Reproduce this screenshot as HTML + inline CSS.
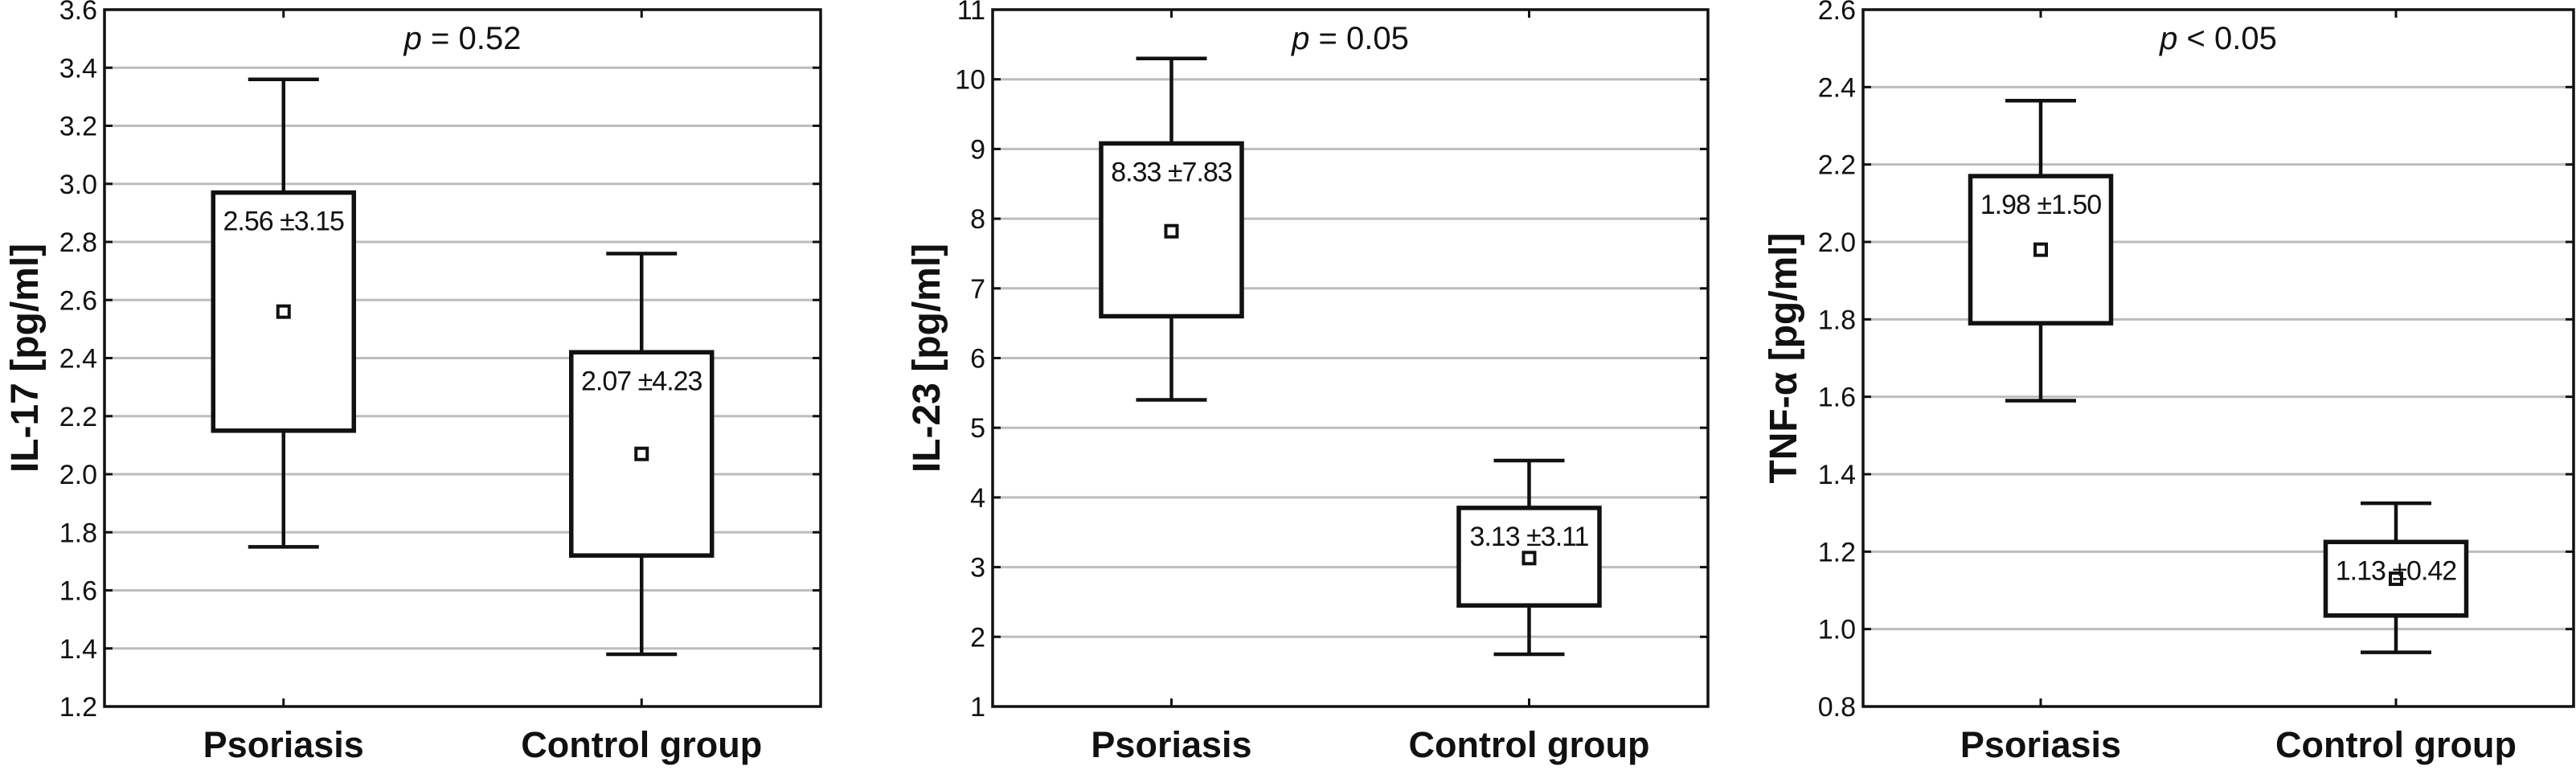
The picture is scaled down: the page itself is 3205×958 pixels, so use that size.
<!DOCTYPE html>
<html><head><meta charset="utf-8"><style>
html,body{margin:0;padding:0;background:#fff;}
svg{display:block;}
text{font-family:"Liberation Sans","DejaVu Sans",sans-serif;fill:#111;}
</style></head><body>
<svg id="c" width="3205" height="958" viewBox="0 0 3205 958" xmlns="http://www.w3.org/2000/svg"></svg>
<script>
const categories = ["Psoriasis", "Control group"];
const panelTitles = ["IL-17 [pg/ml]", "IL-23 [pg/ml]", "TNF-\u03b1 [pg/ml]"];
const pLabels = ["= 0.52", "= 0.05", "< 0.05"];
const il17Ticks = ["1.2","1.4","1.6","1.8","2.0","2.2","2.4","2.6","2.8","3.0","3.2","3.4","3.6"];
const il23Ticks = ["1","2","3","4","5","6","7","8","9","10","11"];
const tnfTicks = ["0.8","1.0","1.2","1.4","1.6","1.8","2.0","2.2","2.4","2.6"];
const il17WhiskerHigh = [3.36, 2.76];
const il17BoxHigh = [2.97, 2.42];
const il17Mean = [2.56, 2.07];
const il17BoxLow = [2.15, 1.72];
const il17WhiskerLow = [1.75, 1.38];
const il17Labels = ["2.56 \u00b13.15", "2.07 \u00b14.23"];
const il23WhiskerHigh = [10.3, 4.53];
const il23BoxHigh = [9.08, 3.85];
const il23Mean = [7.82, 3.13];
const il23BoxLow = [6.6, 2.45];
const il23WhiskerLow = [5.4, 1.75];
const il23Labels = ["8.33 \u00b17.83", "3.13 \u00b13.11"];
const tnfWhiskerHigh = [2.365, 1.325];
const tnfBoxHigh = [2.17, 1.225];
const tnfMean = [1.98, 1.13];
const tnfBoxLow = [1.79, 1.035];
const tnfWhiskerLow = [1.59, 0.94];
const tnfLabels = ["1.98 \u00b11.50", "1.13 \u00b10.42"];

const NS = "http://www.w3.org/2000/svg";
const svg = document.getElementById('c');
function mk(tag, attrs, parent) {
  const e = document.createElementNS(NS, tag);
  for (const k in attrs) e.setAttribute(k, attrs[k]);
  parent.appendChild(e);
  return e;
}
const panels = [
  {L:130, R:1021, titleX:30, ticks:il17Ticks, wh:il17WhiskerHigh, bh:il17BoxHigh, m:il17Mean, bl:il17BoxLow, wl:il17WhiskerLow, lab:il17Labels},
  {L:1235, R:2125, titleX:1152, ticks:il23Ticks, wh:il23WhiskerHigh, bh:il23BoxHigh, m:il23Mean, bl:il23BoxLow, wl:il23WhiskerLow, lab:il23Labels},
  {L:2318, R:3202, titleX:2218, ticks:tnfTicks, wh:tnfWhiskerHigh, bh:tnfBoxHigh, m:tnfMean, bl:tnfBoxLow, wl:tnfWhiskerLow, lab:tnfLabels}
];
const T = 12, B = 879;
panels.forEach((p, pi) => {
  const g = mk('g', {}, svg);
  
  
  const vmin = parseFloat(p.ticks[0]), vmax = parseFloat(p.ticks[p.ticks.length - 1]);
  const y = v => B - (v - vmin) / (vmax - vmin) * (B - T);
  const W = p.R - p.L;
  const x = i => p.L + W * (0.25 + 0.5 * i);
  p.ticks.forEach((t, ti) => {
    const yy = y(parseFloat(t));
    if (ti > 0 && ti < p.ticks.length - 1) {
      const gl = mk('line', {x1:p.L, x2:p.R, y1:yy, y2:yy, stroke:'#bdbdbd', 'stroke-width':3}, g);
      
      
    }
    mk('line', {x1:p.L, x2:p.L + 10, y1:yy, y2:yy, stroke:'#111', 'stroke-width':3}, g);
    mk('line', {x1:p.R - 10, x2:p.R, y1:yy, y2:yy, stroke:'#111', 'stroke-width':3}, g);
    const tl = mk('text', {x:p.L - 9, y:yy + 12, 'text-anchor':'end', 'font-size':34}, g);
    tl.textContent = t;
    
    
  });
  const fr = mk('rect', {x:p.L, y:T, width:W, height:B - T, fill:'none', stroke:'#111', 'stroke-width':3.5}, g);
  
  
  const yt = mk('text', {x:0, y:0, 'text-anchor':'middle', 'font-size':48, 'font-weight':'bold', transform:`translate(${p.titleX + 17},${(T + B) / 2}) rotate(-90)`}, g);
  yt.textContent = panelTitles[pi];
  
  
  const pt = mk('text', {x:p.L + W * 0.5, y:61, 'text-anchor':'middle', 'font-size':40}, g);
  pt.innerHTML = '<tspan font-style="italic">p</tspan> ' + pLabels[pi];
  
  
  categories.forEach((c, i) => {
    const cx = x(i);
    mk('line', {x1:cx, x2:cx, y1:T, y2:T + 10, stroke:'#111', 'stroke-width':3}, g);
    mk('line', {x1:cx, x2:cx, y1:B - 10, y2:B, stroke:'#111', 'stroke-width':3}, g);
    const xl = mk('text', {x:cx, y:942, 'text-anchor':'middle', 'font-size':45, 'font-weight':'bold'}, g);
    xl.textContent = c;
    
    
    const bw = 175, cw = 88;
    const wk = mk('path', {d:`M${cx},${y(p.wh[i])}V${y(p.bh[i])}M${cx},${y(p.bl[i])}V${y(p.wl[i])}M${cx - cw/2},${y(p.wh[i])}H${cx + cw/2}M${cx - cw/2},${y(p.wl[i])}H${cx + cw/2}`, stroke:'#111', 'stroke-width':4.5, fill:'none'}, g);
    
    
    const bx = mk('rect', {x:cx - bw/2, y:y(p.bh[i]), width:bw, height:y(p.bl[i]) - y(p.bh[i]), fill:'#fff', stroke:'#111', 'stroke-width':5.5}, g);
    
    
    const mm = mk('rect', {x:cx - 7, y:y(p.m[i]) - 7, width:14, height:14, fill:'#fff', stroke:'#111', 'stroke-width':4}, g);
    
    
    const al = mk('text', {x:cx, y:y(p.bh[i]) + 47, 'text-anchor':'middle', 'font-size':34, 'letter-spacing':-1}, g);
    al.textContent = p.lab[i];
    
    
  });
});
</script>
</body></html>
